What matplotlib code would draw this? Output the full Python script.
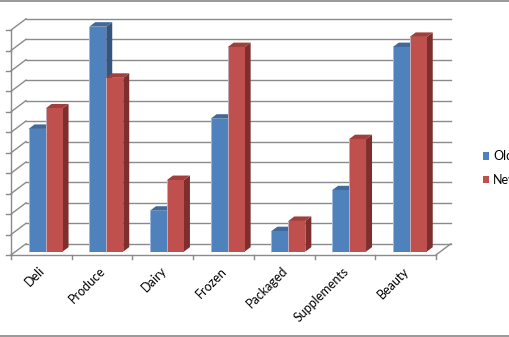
import matplotlib
matplotlib.use('Agg')
import matplotlib.pyplot as plt
from matplotlib.patches import Polygon, Patch
from matplotlib.lines import Line2D

categories = ['Deli', 'Produce', 'Dairy', 'Frozen', 'Packaged', 'Supplements', 'Beauty']
old_values = [6, 11, 2, 6.5, 1, 3, 10]
new_values = [7, 8.5, 3.5, 10, 1.5, 5.5, 10.5]
series_names = ['Old', 'New']
y_max = 11

# colours: front, top, side
blue = ('#4F81BD', '#41699B', '#33557F')
red = ('#C0504D', '#A03F3C', '#7E2F2D')
grid_color = '#8a8a8a'

plt.rcParams['font.family'] = ['Lato', 'DejaVu Sans']

# depth of the 3D box in data units
DX = 0.247
DY = 0.55

fig = plt.figure(figsize=(5.1, 3.37), dpi=100)
ax = fig.add_axes([0, 0, 1, 1])
ax.set_xlim(-11 / 60.7, (510 - 11) / 60.7)
ax.set_ylim(-(337 - 255) / 20.45, 255 / 20.45)
ax.axis('off')

n = len(categories)

# Back wall gridlines and side wall
for k in range(y_max + 1):
    ax.plot([DX, n + DX], [k + DY, k + DY], color=grid_color, lw=1.0, zorder=1)
    ax.plot([0, DX], [k, k + DY], color=grid_color, lw=1.0, zorder=1)
    ax.plot([-0.08, 0], [k, k], color=grid_color, lw=1.0, zorder=1)

# floor edges and axes
ax.plot([0, n], [0, 0], color=grid_color, lw=1.0, zorder=1)
ax.plot([n, n + DX], [0, DY], color=grid_color, lw=1.0, zorder=1)
ax.plot([0, 0], [0, y_max], color=grid_color, lw=1.0, zorder=1)
for i in range(n + 1):
    ax.plot([i, i], [0, -0.2], color=grid_color, lw=1.0, zorder=1)


def draw_bar(x0, width, value, colors):
    d0, d1 = 0.3, 0.7
    fx0 = x0 + d0 * DX
    fx1 = fx0 + width
    fy0 = d0 * DY
    fy1 = value + d0 * DY
    bx = (d1 - d0) * DX
    by = (d1 - d0) * DY
    front, top, side = colors
    ax.add_patch(Polygon([(fx1, fy0), (fx1 + bx, fy0 + by), (fx1 + bx, fy1 + by), (fx1, fy1)],
                         closed=True, facecolor=side, edgecolor='none', zorder=3))
    ax.add_patch(Polygon([(fx0, fy1), (fx1, fy1), (fx1 + bx, fy1 + by), (fx0 + bx, fy1 + by)],
                         closed=True, facecolor=top, edgecolor='none', zorder=3))
    ax.add_patch(Polygon([(fx0, fy0), (fx1, fy0), (fx1, fy1), (fx0, fy1)],
                         closed=True, facecolor=front, edgecolor='none', zorder=3))
    ax.plot([fx0, fx0], [fy0, fy1], color='#c6d6ea', lw=0.6, alpha=0.8, zorder=3)


bar_w = 0.28
start = 0.215
for i in range(n):
    draw_bar(i + start, bar_w, old_values[i], blue)
    draw_bar(i + start + bar_w, bar_w, new_values[i], red)

for i, cat in enumerate(categories):
    ax.text(i + 0.53, -0.68, cat, rotation=45, ha='right', va='center',
            rotation_mode='anchor', fontsize=9, color='black')

handles = [Patch(facecolor=blue[0]), Patch(facecolor=red[0])]
fig.legend(handles, series_names, loc='center left',
           bbox_to_anchor=(483 / 510, 1 - 168 / 337), frameon=False,
           fontsize=9, handlelength=0.5, handleheight=0.5,
           handletextpad=0.3, labelspacing=0.9, borderpad=0, borderaxespad=0)

# chart border (top and bottom visible)
fig.add_artist(Line2D([0, 1], [1 - 1 / 337, 1 - 1 / 337], color='#888888', lw=1.2))
fig.add_artist(Line2D([0, 1], [1 / 337, 1 / 337], color='#888888', lw=1.2))

fig.savefig('out.png', dpi=100)
